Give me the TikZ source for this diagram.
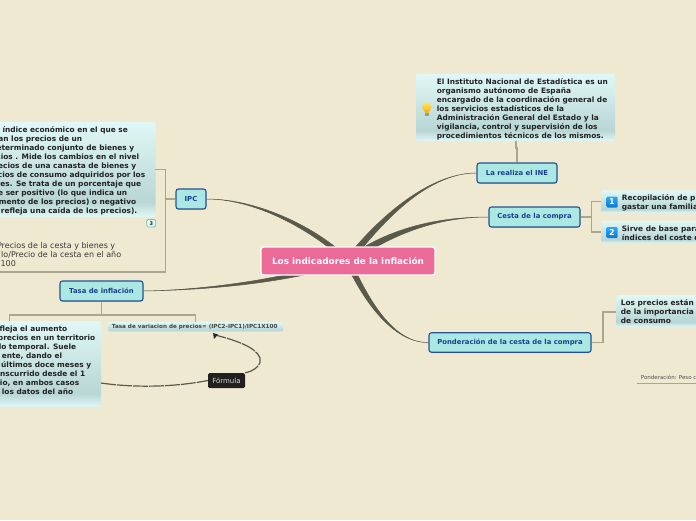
\documentclass[tikz,border=0pt]{standalone}
\usepackage{fontspec}
\setmainfont{DejaVu Sans}
\usetikzlibrary{calc,arrows.meta,shadows}
\pgfdeclarelayer{back}
\pgfsetlayers{back,main}
\definecolor{bgc}{HTML}{F0E9D2}
\definecolor{rootc}{HTML}{EA6A98}
\definecolor{topicc}{HTML}{ABE8E3}
\definecolor{topicb}{HTML}{25528F}
\definecolor{topict}{HTML}{1A3F8F}
\definecolor{thinc}{HTML}{ABA48F}
\definecolor{mainc}{HTML}{5A5A4A}
\definecolor{notet}{HTML}{222222}
\definecolor{nlight}{HTML}{E0F8F6}
\definecolor{nmid}{HTML}{B8D6D4}
\definecolor{darkn}{HTML}{231F20}
\definecolor{iconlo}{HTML}{0A78D8}
\definecolor{iconhi}{HTML}{30A8F4}
\definecolor{bulbhi}{HTML}{FFE566}
\definecolor{bulblo}{HTML}{F5B81E}
\pgfdeclareverticalshading{notefill}{100bp}{color(0bp)=(nlight); color(25bp)=(nlight); color(33bp)=(nmid); color(75bp)=(nlight); color(100bp)=(nlight)}
\pgfdeclareverticalshading{iconfill}{100bp}{color(0bp)=(iconlo); color(25bp)=(iconlo); color(75bp)=(iconhi); color(100bp)=(iconhi)}
\newcommand\rl[2]{\makebox[#1pt][r]{#2}\\}
\newcommand\taper[5]{\filldraw[mainconn] ($(#1)+(#5)$) .. controls ($(#2)+(#5)$) and (#3) .. (#4) .. controls (#3) and ($(#2)-(#5)$) .. ($(#1)-(#5)$) -- cycle;}
\tikzset{
  rootnode/.style={draw=white,line width=1.4pt,fill=rootc,rounded corners=2.5pt,text=white,inner sep=0pt,font=\fontsize{8.9}{10}\selectfont\bfseries},
  topic/.style={draw=topicb,line width=1.1pt,fill=topicc,rounded corners=2.5pt,text=topict,inner sep=0pt,font=\fontsize{6.87}{9}\selectfont\bfseries,drop shadow={shadow xshift=0.4pt,shadow yshift=-0.8pt,opacity=.3}},
  notebox/.style={shading=notefill,rounded corners=2pt,inner sep=0pt},
  notetext/.style={anchor=north west,inner sep=0pt,align=left,text=notet,font=\fontsize{7.4}{9}\selectfont\bfseries},
  regtext/.style={anchor=north west,inner sep=0pt,align=left,text=notet!90,font=\fontsize{8}{9.3}\selectfont},
  thin conn/.style={draw=thinc,line width=1.2pt},
  mainconn/.style={draw=mainc,fill=mainc,line width=0.5pt},
  rel/.style={draw=mainc,line width=1.2pt,dash pattern=on 15pt off 1pt},
  icon/.style={shading=iconfill,rounded corners=1pt,text=white,inner sep=0pt,minimum size=11pt,font=\fontsize{8}{9}\selectfont\bfseries},
}
\begin{document}
\begin{tikzpicture}[x=1pt,y=-1pt]
\useasboundingbox (0,0) rectangle (696,520);
\begin{pgfonlayer}{back}
\fill[bgc] (0,0) rectangle (696,520);
\end{pgfonlayer}
\clip (0,0) rectangle (696,520);
\coordinate (bt) at (155,169.5);
\coordinate (bb) at (0,272);
\coordinate (noteout) at (101,383);
\coordinate (fmlin) at (213,333);
\coordinate (pline) at (637,383);
\coordinate (pend) at (696,383);
\node[rootnode,minimum width=174pt,minimum height=28pt] (root) at (348,261) {Los indicadores de la inflación};
\node[topic,minimum width=30pt,minimum height=20pt] (ipc) at (191,199) {IPC};
\node[topic,minimum width=83pt,minimum height=20pt] (tasa) at (101.5,291) {Tasa de inflación};
\node[topic,minimum width=80pt,minimum height=20pt] (ine) at (517,173) {La realiza el INE};
\node[topic,minimum width=91pt,minimum height=20pt] (cesta) at (534.5,217) {Cesta de la compra};
\node[topic,minimum width=162pt,minimum height=19.5pt] (pond) at (510,342.5) {Ponderación de la cesta de la compra};
\begin{pgfonlayer}{back}
\taper{root.center}{318,232}{260,199}{ipc.east}{0,3}
\taper{root.center}{383,216}{430,173}{ine.west}{4,0}
\taper{root.center}{385,235}{430,217}{cesta.west}{0,3.8}
\taper{root.center}{368,305}{395,343}{pond.west}{3,0}
\taper{root.center}{290,280}{210,290}{tasa.east}{0,2.5}
\end{pgfonlayer}
% notes
\node[notebox,minimum width=165pt,minimum height=95pt] (n1) at (73,169.5) {};
\node[notebox,minimum width=110pt,minimum height=86pt] (n2) at (46,364) {};
\node[notebox,minimum width=175pt,minimum height=10pt] (fml) at (195.5,327) {};
\node[notebox,minimum width=199pt,minimum height=67pt] (n3) at (515.5,107.5) {};
\node[notebox,minimum width=105pt,minimum height=22.5pt] (n4) at (653.5,201.5) {};
\node[notebox,minimum width=105pt,minimum height=22.5pt] (n5) at (653.5,232) {};
\node[notebox,minimum width=90pt,minimum height=32pt] (n6) at (661.5,311) {};
% thin connectors
\draw[thin conn] (ipc.west) -- (165.5,199);
\draw[thin conn] (bt) -| (165.5,272) -- (bb);
\draw[thin conn] (tasa.south) -- (101.5,315);
\draw[thin conn] (9.5,321) |- (195.5,315) -- (195.5,322);
\draw[thin conn] (ine.north) -- (517,148) -- (516,148) -- (n3.south -| 516,0);
\draw[thin conn] (cesta.east) -- (591.5,217);
\draw[thin conn] (n4.west) -- (591.5,201.5) -- (591.5,232) -- (n5.west);
\draw[thin conn] (pond.east) -- (603,342.5) -- (603,312) -- (n6.west |- 0,312);
\draw[thin conn,line width=1pt] (pline) -- (pend);
% relation
\node[fill=darkn,rounded corners=1.5pt,text=white!85!black,inner sep=0pt,minimum width=37pt,minimum height=15pt,font=\fontsize{7}{8}\selectfont] (fnode) at (226.5,380.5) {Fórmula};
\draw[rel] (noteout) .. controls (135,388) and (175,387) .. (fnode.west);
\draw[rel] (fnode.north east) .. controls (255,371) and (262,364) .. (260,358) .. controls (256,347) and (235,340) .. (215,335);
\draw[draw=none,fill=black!85] (fmlin) -- (218,334.5) -- (214,339) -- cycle;
% texts
\node[notetext] (t1) at (0,126) {\rl{127.7}{índice económico en el que se}\rl{82}{an los precios de un}\rl{134}{eterminado conjunto de bienes y}\rl{139}{cios . Mide los cambios en el nivel}\rl{136}{ecios de una canasta de bienes y}\rl{145}{cios de consumo adquiridos por los}\rl{141}{res. Se trata de un porcentaje que}\rl{127}{e ser positivo (lo que indica un}\rl{136}{mento de los precios) o negativo}\makebox[137pt][r]{refleja una caída de los precios).}};
\node[regtext] (t2) at (0,242) {\rl{115}{Precios de la cesta y bienes y}\rl{121}{lo/Precio de la cesta en el año}\makebox[15.7pt][r]{100}};
\node[notetext] (t3) at (0,326) {\rl{67}{fleja el aumento}\rl{95}{precios en un territorio}\rl{76}{lo temporal. Suele}\rl{62}{ente, dando el}\rl{91}{últimos doce meses y}\rl{85}{nscurrido desde el 1}\rl{79}{io, en ambos casos}\makebox[73pt][r]{los datos del año}};
\node[notetext,font=\fontsize{5.65}{7}\selectfont\bfseries,text=notet!85] (t4) at (111.7,324.3) {Tasa de variacion de precios= (IPC2-IPC1)/IPC1X100};
\node[notetext] (t5) at (436.7,78.4) {El Instituto Nacional de Estadística es un\\organismo autónomo de España\\encargado de la coordinación general de\\los servicios estadísticos de la\\Administración General del Estado y la\\vigilancia, control y supervisión de los\\procedimientos técnicos de los mismos.};
\node[notetext] (t6) at (621.7,194.6) {Recopilación de p\\gastar una familia};
\node[notetext] (t7) at (621.7,225.2) {Sirve de base para\\índices del coste d};
\node[notetext] (t8) at (620.7,299.8) {Los precios están\\de la importancia\\de consumo};
\node[anchor=west,inner sep=0pt,text=notet!80,font=\fontsize{5.5}{7}\selectfont] (t9) at (640.7,377) {Ponderación: Peso c};
% badge
\node[draw=thinc!70!cyan,line width=0.8pt,fill=nlight,rounded corners=1.5pt,inner sep=0pt,minimum width=9pt,minimum height=7.5pt,text=notet,font=\fontsize{5}{5}\selectfont\bfseries] (badge) at (151.3,223.2) {3};
% icons
\node[icon] (i1) at (612,202) {1};
\node[icon] (i2) at (612,232.5) {2};
% bulb
\shade[top color=bulbhi,bottom color=bulblo] (426.8,107) circle (4.8pt);
\fill[bulblo] (424,110) -- (429.6,110) -- (428.6,113) -- (425,113) -- cycle;
\fill[white!60!black] (425,113) rectangle (428.6,115.5);
\end{tikzpicture}
\end{document}
